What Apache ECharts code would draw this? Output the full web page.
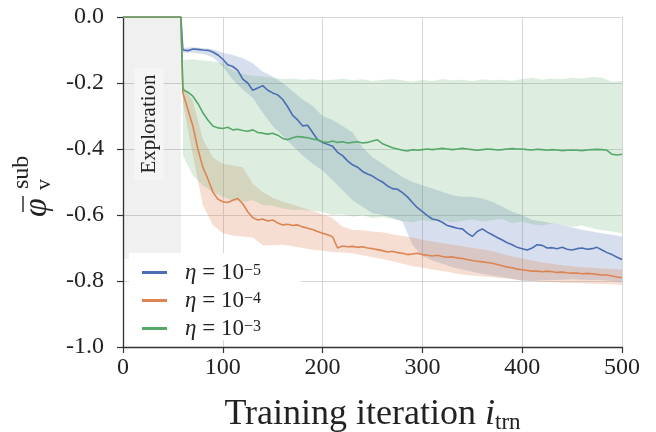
<!DOCTYPE html>
<html>
<head>
<meta charset="utf-8">
<script src="https://cdn.jsdelivr.net/npm/echarts@6/dist/echarts.min.js"></script>
<style>html,body{margin:0;padding:0;background:#fff}#c{width:656px;height:432px}</style>
</head>
<body>
<div id="c"></div>
<script>
// ---- data ----
const xTicks = [0, 100, 200, 300, 400, 500];
const yTicks = [-1.0, -0.8, -0.6, -0.4, -0.2, 0.0];
const seriesNames = ['η = 10^-5', 'η = 10^-4', 'η = 10^-3'];
const etaExp = ['−5', '−4', '−3'];
const explorationEnd = 58;
const explorationBottom = -0.733;

const xMean = [0, 58,
 60,65,70,75,80,85,90,95,100,105,110,115,120,125,130,135,140,145,150,155,
 160,165,170,175,180,185,190,195,200,205,210,215,220,225,230,235,240,245,250,255,
 260,265,270,275,280,285,290,295,300,305,310,315,320,325,330,335,340,345,350,355,
 360,365,370,375,380,385,390,395,400,405,410,415,420,425,430,435,440,445,450,455,
 460,465,470,475,480,485,490,495,500];

const blueMean = [0, 0,
 -0.100,-0.102,-0.097,-0.098,-0.100,-0.101,-0.106,-0.115,-0.128,-0.145,
 -0.150,-0.162,-0.188,-0.200,-0.222,-0.215,-0.208,-0.222,-0.230,-0.236,
 -0.250,-0.272,-0.298,-0.312,-0.330,-0.328,-0.350,-0.372,-0.380,-0.386,
 -0.392,-0.410,-0.420,-0.436,-0.448,-0.455,-0.468,-0.476,-0.482,-0.492,
 -0.500,-0.512,-0.520,-0.522,-0.532,-0.545,-0.562,-0.578,-0.590,-0.602,
 -0.612,-0.615,-0.622,-0.632,-0.636,-0.640,-0.642,-0.655,-0.665,-0.650,
 -0.642,-0.652,-0.660,-0.668,-0.676,-0.684,-0.690,-0.698,-0.702,-0.706,
 -0.700,-0.690,-0.692,-0.700,-0.699,-0.702,-0.698,-0.704,-0.706,-0.702,
 -0.700,-0.704,-0.702,-0.698,-0.706,-0.714,-0.720,-0.728,-0.735];

const orangeMean = [0, 0,
 -0.230,-0.280,-0.330,-0.400,-0.455,-0.490,-0.530,-0.552,-0.560,-0.562,
 -0.555,-0.550,-0.566,-0.590,-0.608,-0.615,-0.612,-0.618,-0.615,-0.624,
 -0.630,-0.628,-0.632,-0.630,-0.636,-0.640,-0.644,-0.650,-0.655,-0.660,
 -0.666,-0.700,-0.694,-0.696,-0.695,-0.698,-0.696,-0.700,-0.702,-0.705,
 -0.708,-0.712,-0.710,-0.714,-0.716,-0.720,-0.718,-0.716,-0.720,-0.722,
 -0.724,-0.722,-0.726,-0.728,-0.727,-0.730,-0.732,-0.735,-0.738,-0.740,
 -0.742,-0.744,-0.746,-0.750,-0.754,-0.758,-0.760,-0.764,-0.766,-0.768,
 -0.770,-0.770,-0.772,-0.770,-0.772,-0.774,-0.773,-0.775,-0.776,-0.776,
 -0.778,-0.777,-0.778,-0.780,-0.782,-0.782,-0.785,-0.788,-0.790];

const greenMean = [0, 0,
 -0.220,-0.228,-0.240,-0.262,-0.290,-0.312,-0.330,-0.336,-0.338,-0.334,
 -0.342,-0.340,-0.344,-0.346,-0.342,-0.350,-0.352,-0.355,-0.352,-0.358,
 -0.368,-0.372,-0.366,-0.362,-0.364,-0.366,-0.370,-0.372,-0.378,-0.380,
 -0.376,-0.380,-0.378,-0.382,-0.380,-0.378,-0.382,-0.380,-0.376,-0.372,
 -0.384,-0.390,-0.396,-0.400,-0.404,-0.406,-0.402,-0.404,-0.402,-0.400,
 -0.402,-0.400,-0.398,-0.400,-0.402,-0.400,-0.398,-0.400,-0.402,-0.404,
 -0.402,-0.400,-0.401,-0.403,-0.402,-0.400,-0.399,-0.400,-0.400,-0.402,
 -0.403,-0.401,-0.402,-0.404,-0.402,-0.403,-0.405,-0.404,-0.403,-0.404,
 -0.405,-0.403,-0.402,-0.401,-0.402,-0.404,-0.416,-0.418,-0.416];

const xBand = [60,70,80,90,100,110,120,130,140,150,160,170,180,190,200,210,220,230,240,250,
 260,270,280,290,300,310,320,330,340,350,360,370,380,390,400,410,420,430,440,450,460,470,480,490,500];

const blueHi = [-0.093,-0.092,-0.094,-0.098,-0.108,-0.115,-0.125,-0.140,-0.165,-0.180,
 -0.200,-0.225,-0.250,-0.270,-0.300,-0.312,-0.330,-0.350,-0.395,-0.425,
 -0.445,-0.465,-0.485,-0.500,-0.510,-0.520,-0.530,-0.540,-0.545,-0.545,
 -0.550,-0.560,-0.575,-0.590,-0.600,-0.615,-0.620,-0.625,-0.630,-0.638,
 -0.645,-0.650,-0.655,-0.660,-0.665];
const blueLo = [-0.108,-0.108,-0.112,-0.122,-0.150,-0.190,-0.220,-0.245,-0.290,-0.330,
 -0.360,-0.390,-0.420,-0.445,-0.465,-0.495,-0.525,-0.555,-0.575,-0.595,
 -0.600,-0.608,-0.620,-0.690,-0.725,-0.738,-0.748,-0.758,-0.765,-0.772,
 -0.778,-0.783,-0.788,-0.793,-0.800,-0.800,-0.798,-0.797,-0.796,-0.795,
 -0.796,-0.797,-0.798,-0.800,-0.802];
const orangeHi = [-0.205,-0.255,-0.370,-0.425,-0.445,-0.450,-0.455,-0.505,-0.530,-0.548,
 -0.560,-0.568,-0.578,-0.588,-0.598,-0.610,-0.635,-0.645,-0.646,-0.650,
 -0.652,-0.658,-0.664,-0.668,-0.675,-0.680,-0.685,-0.690,-0.695,-0.700,
 -0.704,-0.710,-0.718,-0.726,-0.732,-0.738,-0.744,-0.748,-0.752,-0.755,
 -0.758,-0.760,-0.762,-0.764,-0.766];
const orangeLo = [-0.260,-0.420,-0.570,-0.630,-0.655,-0.662,-0.665,-0.668,-0.692,-0.692,
 -0.690,-0.695,-0.700,-0.705,-0.708,-0.712,-0.714,-0.716,-0.722,-0.728,
 -0.733,-0.740,-0.748,-0.755,-0.760,-0.765,-0.770,-0.775,-0.780,-0.783,
 -0.786,-0.789,-0.792,-0.795,-0.798,-0.800,-0.802,-0.804,-0.805,-0.806,
 -0.807,-0.808,-0.809,-0.810,-0.812];
const greenHi = [-0.130,-0.128,-0.132,-0.134,-0.140,-0.162,-0.172,-0.178,-0.180,-0.185,
 -0.188,-0.186,-0.190,-0.188,-0.192,-0.190,-0.186,-0.192,-0.189,-0.194,
 -0.190,-0.188,-0.192,-0.196,-0.190,-0.194,-0.188,-0.192,-0.190,-0.194,
 -0.189,-0.192,-0.190,-0.193,-0.188,-0.184,-0.190,-0.186,-0.188,-0.184,
 -0.186,-0.182,-0.184,-0.196,-0.194];
const greenLo = [-0.420,-0.480,-0.510,-0.530,-0.545,-0.555,-0.560,-0.555,-0.570,-0.572,
 -0.580,-0.585,-0.584,-0.588,-0.592,-0.600,-0.598,-0.605,-0.600,-0.610,
 -0.606,-0.612,-0.618,-0.622,-0.615,-0.620,-0.616,-0.622,-0.618,-0.614,
 -0.620,-0.616,-0.612,-0.625,-0.620,-0.628,-0.632,-0.626,-0.630,-0.636,
 -0.632,-0.640,-0.646,-0.650,-0.655];

// ---- styling ----
const colors = ['#4a6db3', '#dd8452', '#55a868'];
const SERIF = '"Liberation Serif", "DejaVu Serif", serif';

const zip = (xs, ys) => xs.map((x, i) => [x, ys[i]]);

// confidence band: one polygon built from the band arrays through the axes (api.coord)
function band(key, lo, hi, color, opacity, extra) {
  return Object.assign({
    name: key + 'Band', type: 'custom', silent: true, z: 1,
    data: [[xBand[0], lo[0]]],
    encode: { x: 0, y: 1 },
    renderItem: function (params, api) {
      const pts = [];
      for (let i = 0; i < xBand.length; i++) pts.push(api.coord([xBand[i], hi[i]]));
      for (let i = xBand.length - 1; i >= 0; i--) pts.push(api.coord([xBand[i], lo[i]]));
      return { type: 'polygon', shape: { points: pts },
        style: { fill: color, opacity: opacity, stroke: null } };
    }
  }, extra || {});
}

const means = [blueMean, orangeMean, greenMean];
const meanSeries = means.map((m, i) => ({
  name: seriesNames[i], type: 'line', data: zip(xMean, m), symbol: 'none',
  lineStyle: { color: colors[i], width: 1.6 }, itemStyle: { color: colors[i] }, z: 3
}));

const chart = echarts.init(document.getElementById('c'), null, { renderer: 'canvas' });
chart.setOption({
  animation: false,
  backgroundColor: '#fff',
  grid: { left: 123, right: 34, top: 17, bottom: 85, containLabel: false, outerBoundsMode: 'none' },
  xAxis: {
    type: 'value', min: xTicks[0], max: xTicks[xTicks.length - 1], interval: 100,
    axisLine: { show: true, onZero: false, lineStyle: { color: '#333', width: 1.3 } },
    axisTick: { show: true, length: 6, lineStyle: { color: '#333', width: 1.2 } },
    axisLabel: { color: '#222', fontFamily: SERIF, fontSize: 24, margin: 9 },
    splitLine: { show: true, lineStyle: { color: '#d6d6d6', width: 1 } },
    name: '{a|Training iteration }{i|i}{s|trn}',
    nameLocation: 'middle', nameGap: 49,
    nameTextStyle: {
      rich: {
        a: { fontFamily: SERIF, fontSize: 36, color: '#222', lineHeight: 38 },
        i: { fontFamily: SERIF, fontStyle: 'italic', fontSize: 36, color: '#222', lineHeight: 38 },
        s: { fontFamily: SERIF, fontSize: 23, color: '#222', lineHeight: 19, verticalAlign: 'bottom' }
      }
    }
  },
  yAxis: {
    type: 'value', min: yTicks[0], max: yTicks[yTicks.length - 1], interval: 0.2,
    axisLine: { show: true, onZero: false, lineStyle: { color: '#333', width: 1.3 } },
    axisTick: { show: true, length: 6, lineStyle: { color: '#333', width: 1.2 } },
    axisLabel: { color: '#222', fontFamily: SERIF, fontSize: 24, margin: 19,
      formatter: v => (Math.abs(v) < 1e-9 ? 0 : v).toFixed(1) },
    splitLine: { show: true, lineStyle: { color: '#d6d6d6', width: 1 } }
  },
  legend: {
    data: seriesNames, orient: 'vertical', left: 129, top: 253,
    backgroundColor: '#ffffff', padding: [8, 40, 0, 13], itemGap: 5,
    icon: 'rect', itemWidth: 25, itemHeight: 3,
    formatter: name => '{e|η}{m| = 10}{s|' + etaExp[seriesNames.indexOf(name)] + '}',
    textStyle: {
      padding: [0, 0, 0, 13],
      rich: {
        e: { fontFamily: SERIF, fontStyle: 'italic', fontSize: 23, color: '#222', lineHeight: 20 },
        m: { fontFamily: SERIF, fontSize: 23, color: '#222', lineHeight: 20 },
        s: { fontFamily: SERIF, fontSize: 16, color: '#222', lineHeight: 14, verticalAlign: 'top' }
      }
    }
  },
  graphic: [
    {
      type: 'text', x: 149, y: 124, rotation: Math.PI / 2, z: 50,
      style: { text: 'Exploration', font: '21px ' + SERIF, fill: '#222',
        align: 'center', verticalAlign: 'middle', backgroundColor: '#f5f5f5', padding: [4, 7] }
    },
    {
      type: 'group', x: 37, y: 217, rotation: Math.PI / 2, z: 50,
      children: [
        { type: 'text', x: 0, y: 0, style: { text: 'φ', font: 'italic 34px ' + SERIF, fill: '#222', align: 'left', verticalAlign: 'middle' } },
        { type: 'line', shape: { x1: 5, y1: -14, x2: 21, y2: -14 }, style: { stroke: '#222', lineWidth: 1.4 } },
        { type: 'text', x: 28, y: -15, style: { text: 'sub', font: '24px ' + SERIF, fill: '#222', align: 'left', verticalAlign: 'middle' } },
        { type: 'text', x: 27, y: 7, style: { text: 'v', font: '22px ' + SERIF, fill: '#222', align: 'left', verticalAlign: 'middle' } }
      ]
    }
  ],
  series: [
    band('blue', blueLo, blueHi, colors[0], 0.22, {
      markArea: { silent: true, itemStyle: { color: 'rgba(0,0,0,0.06)' },
        data: [[{ coord: [0, 0] }, { coord: [explorationEnd, explorationBottom] }]] }
    }),
    band('orange', orangeLo, orangeHi, colors[1], 0.26),
    band('green', greenLo, greenHi, colors[2], 0.2),
    ...meanSeries
  ]
});
</script>
</body>
</html>
